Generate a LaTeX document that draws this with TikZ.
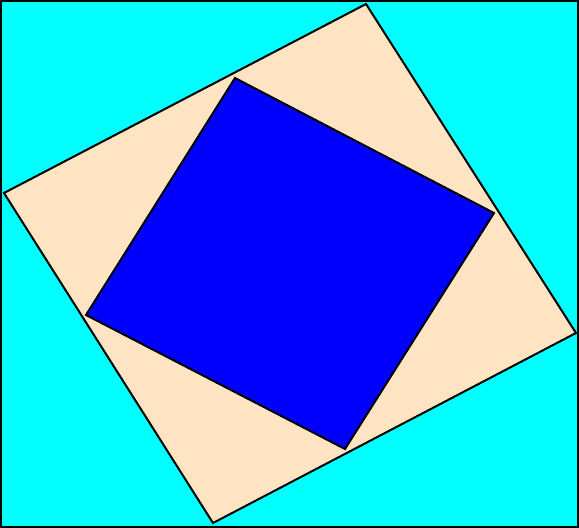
\documentclass[tikz,border=0pt]{standalone}
\usepackage{tikz}
\usetikzlibrary{positioning,calc}

\definecolor{aqua}{RGB}{0,255,255}
\definecolor{bisque}{RGB}{255,228,196}
\definecolor{pureblue}{RGB}{0,0,255}

\begin{document}
\begin{tikzpicture}[
            x=1pt, y=-1pt,
            edge/.style={draw=black, line width=2pt, line join=miter}
        ]

% frame
            \useasboundingbox (0,0) rectangle (579,528);
            \coordinate (tl) at (1,1);
            \coordinate (br) at (578,527);
            \fill[aqua] (0,0) rectangle (579,528);
            \draw[edge] (tl) rectangle (br);

% outer square
            \coordinate (p1) at (366,4);
            \coordinate (p2) at (576,333);
            \coordinate (p3) at (213,523);
            \coordinate (p4) at (4,193);
            \draw[edge, fill=bisque] (p1)--(p2)--(p3)--(p4)--cycle;

% inner square
            \coordinate (q1) at (235,78);
            \coordinate (q2) at (494,213);
            \coordinate (q3) at (345,449);
            \coordinate (q4) at (86,315);
            \draw[edge, fill=pureblue] (q1)--(q2)--(q3)--(q4)--cycle;

        \end{tikzpicture}
\end{document}
